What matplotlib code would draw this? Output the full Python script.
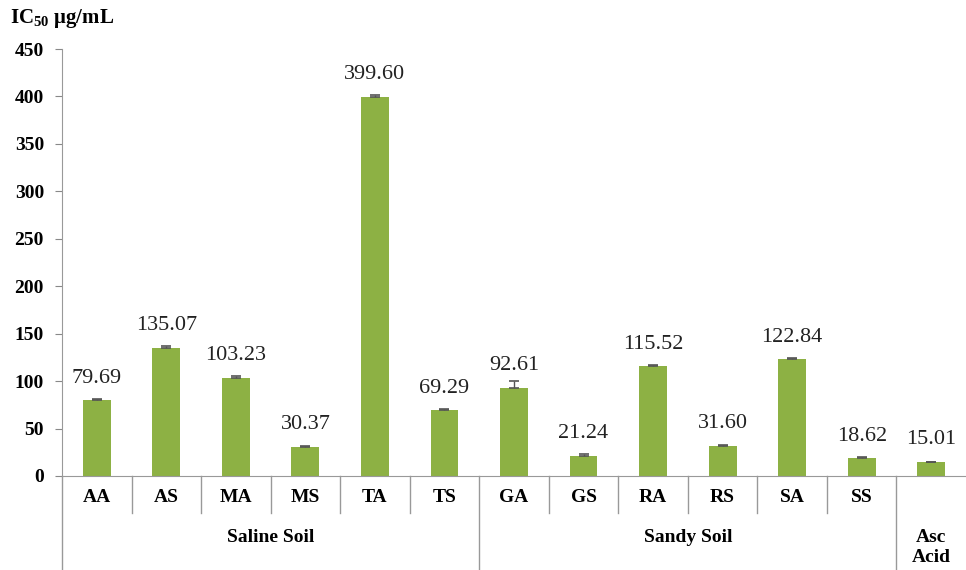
import matplotlib
matplotlib.use("Agg")
import matplotlib.pyplot as plt
import numpy as np

categories = ["AA", "AS", "MA", "MS", "TA", "TS", "GA", "GS", "RA", "RS", "SA", "SS", ""]
values = [79.69, 135.07, 103.23, 30.37, 399.60, 69.29, 92.61, 21.24, 115.52, 31.60, 122.84, 18.62, 15.01]
errors = [1.2, 2.0, 2.5, 1.5, 1.5, 1.5, 7.5, 1.5, 1.0, 1.2, 1.5, 1.0, 0.0]
groups = [("Saline Soil", 0, 6), ("Sandy Soil", 6, 12), ("Asc\nAcid", 12, 13)]
yticks = [0, 50, 100, 150, 200, 250, 300, 350, 400, 450]

plt.rcParams['font.family'] = ['Liberation Serif', 'DejaVu Serif']
plt.rcParams['mathtext.fontset'] = 'custom'
plt.rcParams['mathtext.rm'] = 'Liberation Serif:bold'
plt.rcParams['mathtext.default'] = 'rm'

fig = plt.figure(figsize=(9.66, 5.70), dpi=100)
ax = fig.add_axes([62/966, 94/570, (966-62)/966, (476-49)/570])

n = len(categories)
x = np.arange(n)
green = '#8DB144'
ax.bar(x, values, width=0.4, color=green, zorder=2)
ax.errorbar(x, values, yerr=[[0] * n, errors], fmt='none', ecolor='#555555', elinewidth=1,
            capsize=3.5, capthick=1.2, zorder=3)
for xi, v in zip(x, values):
    ax.annotate(f"{v:.2f}", (xi, v), xytext=(0, 16), textcoords='offset points',
                ha='center', va='center', fontsize=16, color='#222222')

ax.set_xlim(-0.5, n - 0.5)
ax.set_ylim(0, 450)
ax.set_yticks(yticks)
ax.set_yticklabels([str(t) for t in yticks], fontsize=14, fontweight='bold')
ax.tick_params(axis='y', length=5, color='#888888', pad=8)
ax.set_xticks([])
for s in ['top', 'right']:
    ax.spines[s].set_visible(False)
ax.spines['left'].set_color('#999999')
ax.spines['bottom'].set_color('#999999')

trans = ax.get_xaxis_transform()
# category labels and separators
for i, c in enumerate(categories):
    if c:
        ax.text(i, -21/427, c, transform=trans, ha='center', va='center',
                fontsize=14, fontweight='bold')
short_y = -37/427
long_y = -94/427
for i in range(1, n):
    xs = i - 0.5
    boundary = any(xs == g[1] - 0.5 for g in groups[1:])
    ybot = long_y if boundary else short_y
    ax.plot([xs, xs], [0, ybot], transform=trans, color='#999999', lw=1, clip_on=False)
ax.plot([-0.5, -0.5], [0, long_y], transform=trans, color='#999999', lw=1, clip_on=False)
for name, a, b in groups:
    ax.text((a + b - 1) / 2, -53/427, name, transform=trans, ha='center', va='top',
            fontsize=14, fontweight='bold', linespacing=1.25)

fig.text(10/966, 1 - 18/570, r"IC$_{50}$ μg/mL", ha='left', va='center',
         fontsize=15, fontweight='bold')

fig.savefig("out.png", dpi=100)
